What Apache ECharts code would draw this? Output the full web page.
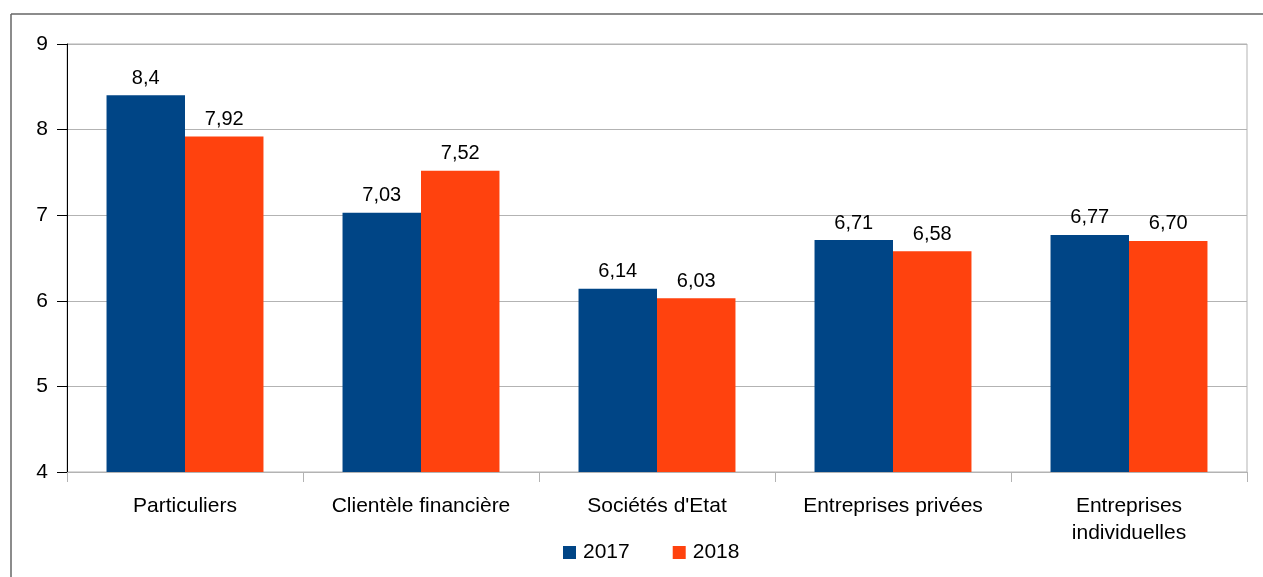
<!DOCTYPE html>
<html>
<head>
<meta charset="utf-8">
<script src="https://cdn.jsdelivr.net/npm/echarts@6/dist/echarts.min.js"></script>
<style>
html, body { margin: 0; padding: 0; background: #fff; }
#chart { width: 1263px; height: 577px; }
</style>
</head>
<body>
<div id="chart"></div>
<script>
// categories and values
var categories = ['Particuliers', 'Clientèle financière', "Sociétés d'Etat", 'Entreprises privées', 'Entreprises\nindividuelles'];
var years = ['2017', '2018'];
var values2017 = [8.4, 7.03, 6.14, 6.71, 6.77];
var values2018 = [7.92, 7.52, 6.03, 6.58, 6.70];
var labels2017 = ['8,4', '7,03', '6,14', '6,71', '6,77'];
var labels2018 = ['7,92', '7,52', '6,03', '6,58', '6,70'];
var yTicks = [4, 5, 6, 7, 8, 9];

var font = 'Liberation Sans, Arial, sans-serif';
var chart = echarts.init(document.getElementById('chart'));

function barSeries(name, data, labels, color) {
    return {
        name: name,
        type: 'bar',
        data: data,
        barGap: '0%',
        barCategoryGap: '33.5%',
        itemStyle: { color: color },
        label: {
            show: true,
            position: 'top',
            distance: 7,
            fontFamily: font,
            fontSize: 20,
            color: '#000',
            formatter: function (p) { return labels[p.dataIndex]; }
        },
        emphasis: { disabled: true }
    };
}

var option = {
    animation: false,
    backgroundColor: '#fff',
    graphic: [
        { type: 'line', shape: { x1: 11, y1: 14, x2: 1263, y2: 14 }, style: { stroke: '#666', lineWidth: 1.5 } },
        { type: 'line', shape: { x1: 11, y1: 14, x2: 11, y2: 577 }, style: { stroke: '#666', lineWidth: 1.5 } }
    ],
    grid: {
        left: 67, right: 16, top: 44, bottom: 105,
        show: true, borderColor: '#b3b3b3', borderWidth: 1
    },
    legend: {
        data: years,
        left: 558,
        top: 537,
        icon: 'rect',
        itemWidth: 13,
        itemHeight: 13,
        itemGap: 43,
        textStyle: { fontFamily: font, fontSize: 21, color: '#000', padding: [0, 0, 0, 2] }
    },
    xAxis: {
        type: 'category',
        data: categories,
        axisLine: { lineStyle: { color: '#b3b3b3', width: 1 } },
        axisTick: { show: true, length: 10, lineStyle: { color: '#b3b3b3' } },
        axisLabel: { margin: 21, fontFamily: font, fontSize: 21, color: '#000', lineHeight: 27, interval: 0 }
    },
    yAxis: {
        type: 'value',
        min: yTicks[0],
        max: yTicks[yTicks.length - 1],
        interval: 1,
        axisLine: { show: true, lineStyle: { color: '#000', width: 1 } },
        axisTick: { show: true, length: 10, lineStyle: { color: '#000' } },
        axisLabel: { margin: 19, fontFamily: font, fontSize: 21, color: '#000' },
        splitLine: { lineStyle: { color: '#b3b3b3', width: 1 } }
    },
    series: [
        barSeries(years[0], values2017, labels2017, '#004586'),
        barSeries(years[1], values2018, labels2018, '#ff420e')
    ]
};
chart.setOption(option);
</script>
</body>
</html>
